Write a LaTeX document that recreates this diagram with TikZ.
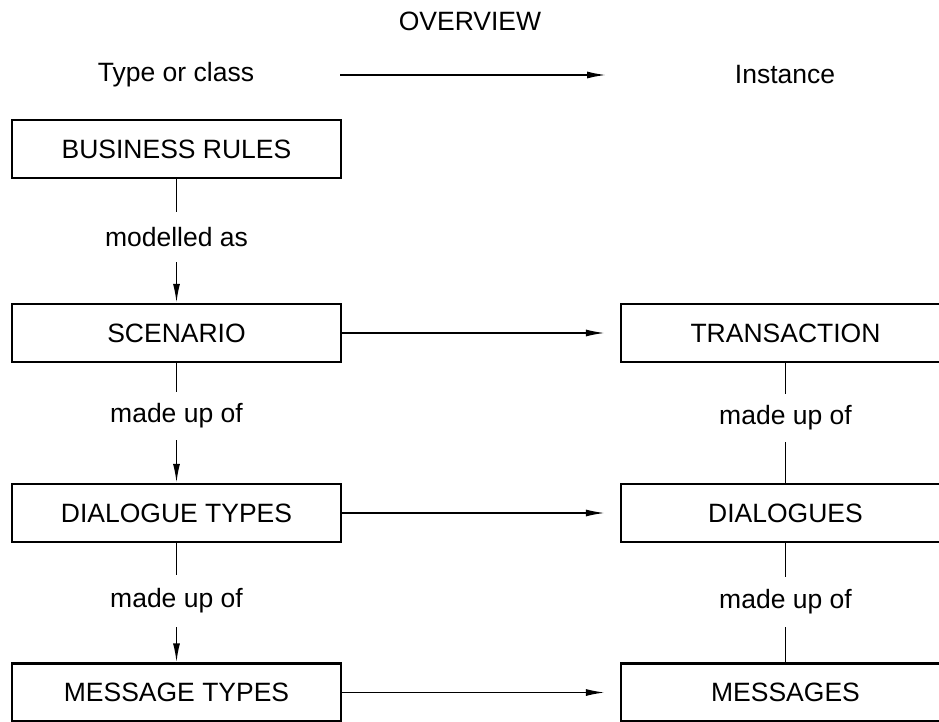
\documentclass[tikz,border=0pt]{standalone}
\usepackage{fontspec}
\setmainfont{Liberation Sans}
\usetikzlibrary{arrows.meta}
\begin{document}
\begin{tikzpicture}[x=1pt,y=-1pt,
  every node/.style={font=\fontsize{26.5}{31}\selectfont},
  box/.style={draw,line width=2.2pt,minimum width=329pt,minimum height=58pt,inner sep=0pt},
  lab/.style={inner sep=0pt,minimum height=48pt},
  conn/.style={line width=1.6pt},
  arr/.style={conn,-{Latex[length=19pt,width=7pt]}}]
\useasboundingbox (0,0) rectangle (939,722);
\clip (0,0) rectangle (939,722);
% headings
\node (ov) at (470,21) {OVERVIEW};
\node (tc) at (176,75) {Type or class};
\node (in) at (785,75) {Instance};
\coordinate (ta) at (340,75);
\coordinate (tb) at (606,75);
\draw[arr] (ta) -- (tb);
% left boxes
\node[box] (br) at (176.5,149) {BUSINESS RULES};
\node[box] (sc) at (176.5,333) {SCENARIO};
\node[box] (dt) at (176.5,513) {DIALOGUE TYPES};
\node[box] (mt) at (176.5,692.5) {MESSAGE TYPES};
% right boxes
\node[box] (tr) at (785.5,333) {TRANSACTION};
\node[box] (dg) at (785.5,513) {DIALOGUES};
\node[box] (ms) at (785.5,692.5) {MESSAGES};
% labels
\node[lab,minimum height=50pt] (l1) at (176.5,237) {modelled as};
\node[lab] (l2) at (176.5,416) {made up of};
\node[lab,minimum height=52pt] (l3) at (176.5,601) {made up of};
\node[lab] (r2) at (785.5,418) {made up of};
\node[lab,minimum height=50pt] (r3) at (785.5,602) {made up of};
% left vertical connectors
\draw[conn] (br.south) -- (l1.north);
\draw[arr] (l1.south) -- (sc.north);
\draw[conn] (sc.south) -- (l2.north);
\draw[arr] (l2.south) -- (dt.north);
\draw[conn] (dt.south) -- (l3.north);
\draw[arr] (l3.south) -- (mt.north);
% right vertical connectors
\draw[conn] (tr.south) -- (r2.north);
\draw[conn] (r2.south) -- (dg.north);
\draw[conn] (dg.south) -- (r3.north);
\draw[conn] (r3.south) -- (ms.north);
% horizontal arrows
\draw[arr,shorten >=15pt] (sc.east) -- (tr.west);
\draw[arr,shorten >=15pt] (dt.east) -- (dg.west);
\draw[arr,shorten >=15pt] (mt.east) -- (ms.west);
\end{tikzpicture}
\end{document}
